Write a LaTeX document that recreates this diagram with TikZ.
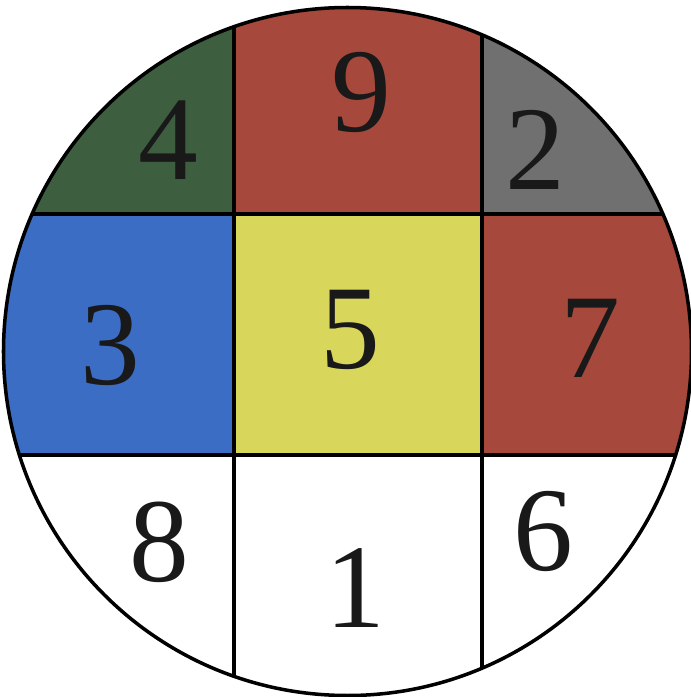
\documentclass[tikz,border=0pt]{standalone}
\usepackage{fontspec}
\setmainfont{Liberation Serif}
\usetikzlibrary{math}
\definecolor{qgreen}{RGB}{61,94,63}
\definecolor{qred}{RGB}{166,72,59}
\definecolor{qgray}{RGB}{112,112,112}
\definecolor{qblue}{RGB}{59,109,196}
\definecolor{qyellow}{RGB}{217,214,92}
\tikzset{digit/.style={font=\fontsize{34}{40}\selectfont, text=black!90}}

\begin{document}
\begin{tikzpicture}[x=0.01cm,y=-0.01cm]

\tikzmath{
\cx = 347.5;
\cy = 351.5;
\R = 344;
\xa = 234;
\xb = 482;
\ya = 214;
\yb = 455;
}
\useasboundingbox (0,0) rectangle (690,697);
%
\begin{scope}
\clip (\cx,\cy) circle (\R);
\fill[qgreen]  (0,0)   rectangle (\xa,\ya);
\fill[qred]    (\xa,0) rectangle (\xb,\ya);
\fill[qgray]   (\xb,0) rectangle (700,\ya);
\fill[qblue]   (0,\ya)   rectangle (\xa,\yb);
\fill[qyellow] (\xa,\ya) rectangle (\xb,\yb);
\fill[qred]    (\xb,\ya) rectangle (700,\yb);
\foreach \x in {\xa,\xb}{
  \draw[line width=1pt] (\x,0) -- (\x,700);
}
\foreach \y in {\ya,\yb}{
  \draw[line width=1pt] (0,\y) -- (700,\y);
}
\end{scope}

\draw[line width=1pt] (\cx,\cy) circle (\R);

\node[digit] (n4) at (168,140) {4};
\node[digit] (n9) at (361,92) {9};
\node[digit] (n2) at (535,150) {2};
\node[digit] (n3) at (110,345) {3};
\node[digit] (n5) at (350,330) {5};
\node[digit] (n7) at (590,338) {7};
\node[digit] (n8) at (159,542) {8};
\node[digit] (n1) at (355,588) {1};
\node[digit] (n6) at (543,531) {6};

\end{tikzpicture}
\end{document}
